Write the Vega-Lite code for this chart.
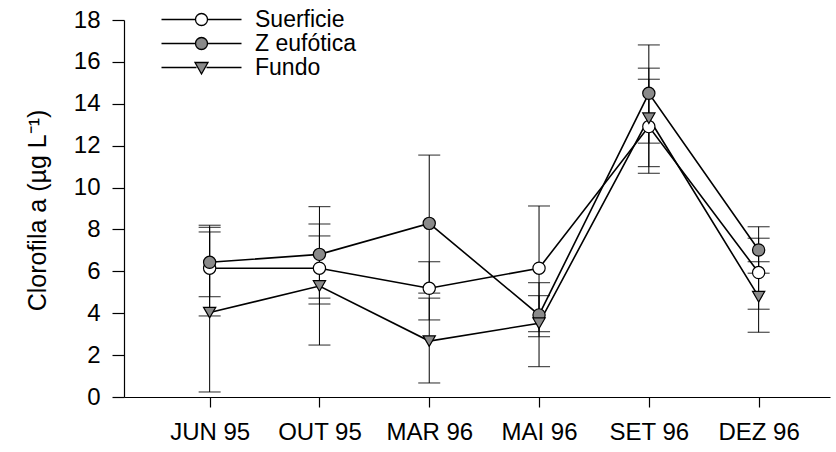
{
  "$schema": "https://vega.github.io/schema/vega-lite/v6.json",
  "width": 706,
  "height": 377,
  "autosize": {"type": "none"},
  "padding": {"left": 124, "top": 20, "right": 6, "bottom": 55},
  "background": "white",
  "config": {
    "view": {"stroke": null},
    "font": "Liberation Sans",
    "axis": {"domainColor": "black", "tickColor": "black", "labelColor": "black", "titleColor": "black", "grid": false, "labelFont": "Liberation Sans", "titleFont": "Liberation Sans", "labelFontSize": 24, "titleFontSize": 25, "titleFontWeight": "normal", "domainWidth": 1.2, "tickWidth": 1.2},
    "legend": {
      "title": null, "orient": "none", "legendX": 66, "legendY": -12, "padding": 0,
      "symbolSize": 400, "symbolStrokeColor": "black", "symbolStrokeWidth": 1.3,
      "labelFontSize": 23, "labelFont": "Liberation Sans", "labelColor": "black", "rowPadding": -2.5, "labelOffset": 42,
      "symbolOpacity": 1
    }
  },
  "data": {
    "values": [
      {"m": 1, "serie": "Suerficie", "v": 6.15, "lo": 3.87, "hi": 8.2},
      {"m": 2, "serie": "Suerficie", "v": 6.15, "lo": 4.72, "hi": 7.69},
      {"m": 3, "serie": "Suerficie", "v": 5.19, "lo": 3.68, "hi": 6.46},
      {"m": 4, "serie": "Suerficie", "v": 6.15, "lo": 3.12, "hi": 9.12},
      {"m": 5, "serie": "Suerficie", "v": 12.91, "lo": 10.68, "hi": 15.17},
      {"m": 6, "serie": "Suerficie", "v": 5.94, "lo": 4.19, "hi": 7.58},
      {"m": 1, "serie": "Z eufótica", "v": 6.43, "lo": 4.79, "hi": 8.1},
      {"m": 2, "serie": "Z eufótica", "v": 6.81, "lo": 4.44, "hi": 9.09},
      {"m": 3, "serie": "Z eufótica", "v": 8.29, "lo": 4.96, "hi": 11.55},
      {"m": 4, "serie": "Z eufótica", "v": 3.92, "lo": 2.88, "hi": 4.84},
      {"m": 5, "serie": "Z eufótica", "v": 14.5, "lo": 12.12, "hi": 16.81},
      {"m": 6, "serie": "Z eufótica", "v": 7.02, "lo": 5.91, "hi": 8.13},
      {"m": 1, "serie": "Fundo", "v": 4.03, "lo": 0.24, "hi": 7.88},
      {"m": 2, "serie": "Fundo", "v": 5.3, "lo": 2.48, "hi": 8.26},
      {"m": 3, "serie": "Fundo", "v": 2.67, "lo": 0.67, "hi": 4.72},
      {"m": 4, "serie": "Fundo", "v": 3.52, "lo": 1.45, "hi": 5.46},
      {"m": 5, "serie": "Fundo", "v": 13.31, "lo": 11.0, "hi": 15.7},
      {"m": 6, "serie": "Fundo", "v": 4.79, "lo": 3.09, "hi": 6.46}
    ]
  },
  "encoding": {
    "x": {
      "field": "m", "type": "quantitative",
      "scale": {"domain": [0.22, 6.65], "nice": false, "zero": false},
      "axis": {
        "title": null, "values": [1, 2, 3, 4, 5, 6],
        "labelExpr": "['', 'JUN 95', 'OUT 95', 'MAR 96', 'MAI 96', 'SET 96', 'DEZ 96'][datum.value]",
        "tickSize": 10, "labelPadding": 13
      }
    }
  },
  "layer": [
    {
      "mark": {"type": "rule", "color": "black", "strokeWidth": 1},
      "encoding": {
        "y": {"field": "lo", "type": "quantitative", "scale": {"domain": [0, 18], "nice": false},
          "axis": {
            "title": "Clorofila a (µg L⁻¹)",
            "values": [0, 1, 2, 3, 4, 5, 6, 7, 8, 9, 10, 11, 12, 13, 14, 15, 16, 17, 18],
            "labelExpr": "datum.value % 2 ? '' : datum.label",
            "tickSize": {"condition": {"test": "datum.value % 2", "value": 6}, "value": 12},
            "labelPadding": 12,
            "titleX": -87, "titleY": 190, "titleAngle": -90, "titleAlign": "center", "titleBaseline": "middle"
          }},
        "y2": {"field": "hi"}
      }
    },
    {
      "mark": {"type": "tick", "orient": "horizontal", "color": "black", "size": 22, "thickness": 1.2},
      "encoding": {"y": {"field": "lo", "type": "quantitative"}}
    },
    {
      "mark": {"type": "tick", "orient": "horizontal", "color": "black", "size": 22, "thickness": 1.2},
      "encoding": {"y": {"field": "hi", "type": "quantitative"}}
    },
    {
      "mark": {"type": "line", "color": "black", "strokeWidth": 1.6},
      "encoding": {
        "y": {"field": "v", "type": "quantitative"},
        "detail": {"field": "serie"}
      }
    },
    {
      "transform": [{"filter": "datum.serie !== 'Fundo'"}],
      "mark": {"type": "point", "shape": "circle", "filled": true, "stroke": "black", "strokeWidth": 1.2, "size": 150, "opacity": 1},
      "encoding": {
        "y": {"field": "v", "type": "quantitative"},
        "fill": {"field": "serie", "type": "nominal",
          "scale": {"domain": ["Suerficie", "Z eufótica", "Fundo"], "range": ["white", "#8a8a8a", "#8a8a8a"]},
          "legend": {
            "encode": {
              "symbols": {"update": {"shape": {"signal": "datum.value === 'Fundo' ? 'M-4,0H-0.5M0.5,0H4M-0.65,-0.5L0.65,-0.5L0,0.65Z' : 'M-4,0H-0.6M0.6,0H4M0.6,0A0.6,0.6,0,1,1,-0.6,0A0.6,0.6,0,1,1,0.6,0Z'"}}}
            }
          }}
      }
    },
    {
      "transform": [{"filter": "datum.serie === 'Fundo'"}],
      "mark": {"type": "point", "shape": "triangle-down", "filled": true, "stroke": "black", "strokeWidth": 1.2, "size": 150, "opacity": 1},
      "encoding": {
        "y": {"field": "v", "type": "quantitative"},
        "fill": {"field": "serie", "type": "nominal"}
      }
    }
  ]
}
